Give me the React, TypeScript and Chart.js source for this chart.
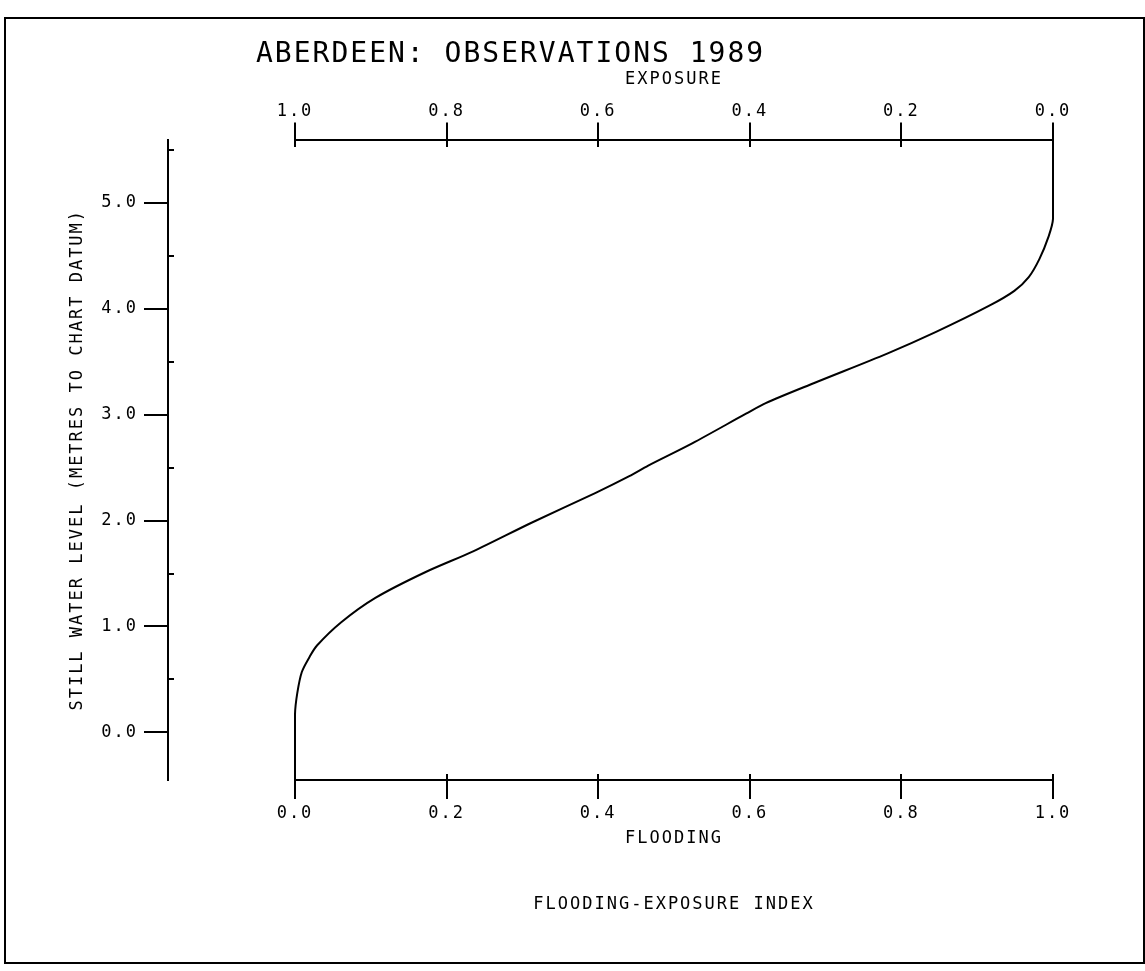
import React, { useEffect, useRef } from "react";
import { Chart, registerables } from "chart.js";

Chart.register(...registerables);

// ---- data ----
const titleText = "ABERDEEN: OBSERVATIONS 1989";
const exposureTitle = "EXPOSURE";
const floodingTitle = "FLOODING";
const indexTitle = "FLOODING-EXPOSURE INDEX";
const levelTitle = "STILL WATER LEVEL (METRES TO CHART DATUM)";

// flooding index (0..1) against still water level (m)
const floodingValues = [
  0, 0, 0.003, 0.009, 0.019, 0.029, 0.061, 0.106, 0.171, 0.235, 0.312, 0.396, 0.441,
  0.466, 0.524, 0.595, 0.621, 0.685, 0.782, 0.845, 0.916, 0.949, 0.968, 0.982, 0.994,
  1.0, 1.0,
];
const levelValues = [
  -0.45, 0.17, 0.37, 0.57, 0.71, 0.82, 1.04, 1.27, 1.51, 1.71, 1.98, 2.26, 2.42,
  2.52, 2.73, 3.01, 3.11, 3.3, 3.58, 3.78, 4.03, 4.17, 4.3, 4.47, 4.68,
  4.85, 5.6,
];

const floodingTicks = [0, 0.2, 0.4, 0.6, 0.8, 1.0];
const exposureTicks = [1.0, 0.8, 0.6, 0.4, 0.2, 0.0];
const levelTicks = [0, 1, 2, 3, 4, 5];
const levelMinorTicks = [0.5, 1.5, 2.5, 3.5, 4.5, 5.5];
const levelMin = -0.45;
const levelMax = 5.6;

export default function App() {
  const ref = useRef<HTMLCanvasElement>(null);

  useEffect(() => {
    const canvas = ref.current;
    if (!canvas) return;
    const FONT = "'DejaVu Sans Mono', monospace";
    const INK = "#000";
    const yAxisAt = -0.1675; // level axis position, in flooding-scale units
    const yLabelAt = -0.2071; // right edge of the level tick labels

    const spacing = {
      id: "letterSpacing",
      beforeUpdate(chart: any) {
        chart.ctx.letterSpacing = "2px";
      },
      beforeDraw(chart: any) {
        chart.ctx.letterSpacing = "2px";
      },
    };

    const tickFont = { family: FONT, size: 17 };
    const fmt = (v: any) => Number(v).toFixed(1);
    const setTicks = (list: number[]) => (s: any) => {
      s.ticks = list.map((v) => ({ value: v }));
    };

    const chart = new Chart(canvas, {
      type: "scatter",
      data: {
        datasets: [
          {
            data: floodingValues.map((f, i) => ({ x: f, y: levelValues[i] })),
            showLine: true,
            borderColor: INK,
            borderWidth: 2,
            pointRadius: 0,
            tension: 0.3,
            clip: false,
            xAxisID: "x",
            yAxisID: "y",
          } as any,
        ],
      },
      options: {
        responsive: false,
        animation: false,
        events: [],
        color: INK,
        layout: { padding: { left: 256, right: 92, top: 0, bottom: 33 } },
        plugins: {
          legend: { display: false },
          tooltip: { enabled: false },
          title: {
            display: true,
            text: titleText,
            position: "top",
            align: "start",
            color: INK,
            font: { family: FONT, size: 28, weight: "normal" },
            padding: { top: 38, bottom: -2 } as any,
          },
          subtitle: {
            display: true,
            text: levelTitle,
            position: "left",
            align: "center",
            fullSize: false,
            color: INK,
            font: { family: FONT, size: 17, weight: "normal" },
            padding: { top: -188.7, bottom: 207.3 } as any,
          },
        },
        scales: {
          x: {
            type: "linear",
            position: "bottom",
            min: 0,
            max: 1,
            afterBuildTicks: setTicks(floodingTicks),
            ticks: { callback: fmt, font: tickFont, color: INK, padding: 4, maxRotation: 0, autoSkip: false },
            grid: { drawOnChartArea: false, drawTicks: true, tickLength: 19, color: INK, lineWidth: 2 },
            border: { display: true, color: INK, width: 2 },
            title: {
              display: true,
              text: [floodingTitle, indexTitle],
              color: INK,
              font: { family: FONT, size: 17, lineHeight: "66px" } as any,
              padding: { top: -21.4, bottom: 0 } as any,
            },
          },
          xInner: {
            type: "linear",
            axis: "x",
            position: { y: levelMin },
            min: 0,
            max: 1,
            afterBuildTicks: setTicks(floodingTicks),
            ticks: { display: false },
            grid: { drawOnChartArea: false, drawTicks: true, tickLength: -6, color: INK, lineWidth: 2 },
            border: { display: false },
          } as any,
          x2: {
            type: "linear",
            axis: "x",
            position: "top",
            min: 0,
            max: 1,
            reverse: true,
            afterBuildTicks: setTicks(exposureTicks),
            ticks: { callback: fmt, font: tickFont, color: INK, padding: 1, maxRotation: 0, autoSkip: false },
            grid: { drawOnChartArea: false, drawTicks: true, tickLength: 17, color: INK, lineWidth: 2 },
            border: { display: true, color: INK, width: 2 },
            title: {
              display: true,
              text: exposureTitle,
              color: INK,
              font: { family: FONT, size: 17 },
              padding: { top: 0, bottom: 10.1 } as any,
            },
          } as any,
          x2Inner: {
            type: "linear",
            axis: "x",
            position: { y: levelMax },
            min: 0,
            max: 1,
            afterBuildTicks: setTicks(floodingTicks),
            ticks: { display: false },
            grid: { drawOnChartArea: false, drawTicks: true, tickLength: 7, color: INK, lineWidth: 2 },
            border: { display: false },
          } as any,
          y: {
            type: "linear",
            position: { x: yAxisAt } as any,
            min: levelMin,
            max: levelMax,
            afterBuildTicks: setTicks(levelTicks),
            ticks: { display: false },
            grid: { drawOnChartArea: false, drawTicks: true, tickLength: 23, color: INK, lineWidth: 2 },
            border: { display: true, color: INK, width: 2 },
          },
          yLabels: {
            type: "linear",
            axis: "y",
            position: { x: yLabelAt } as any,
            min: levelMin,
            max: levelMax,
            afterBuildTicks: setTicks(levelTicks),
            ticks: { callback: fmt, font: tickFont, color: INK, padding: 0, autoSkip: false },
            grid: { display: false, drawOnChartArea: false },
            border: { display: false },
          } as any,
          y2: {
            type: "linear",
            axis: "y",
            position: { x: yAxisAt } as any,
            min: levelMin,
            max: levelMax,
            afterBuildTicks: setTicks(levelMinorTicks),
            ticks: { display: false },
            grid: { drawOnChartArea: false, drawTicks: true, tickLength: -6, color: INK, lineWidth: 2 },
            border: { display: false },
          } as any,
        },
      },
      plugins: [spacing],
    });
    return () => chart.destroy();
  }, []);

  return (
    <div style={{ position: "absolute", left: 0, top: 0, width: 1145, height: 971 }}>
      <canvas ref={ref} width={1145} height={971} style={{ display: "block" }} />
      <div
        style={{
          position: "absolute",
          left: 4,
          top: 17,
          width: 1137,
          height: 943,
          border: "2px solid #000",
          pointerEvents: "none",
        }}
      />
    </div>
  );
}
